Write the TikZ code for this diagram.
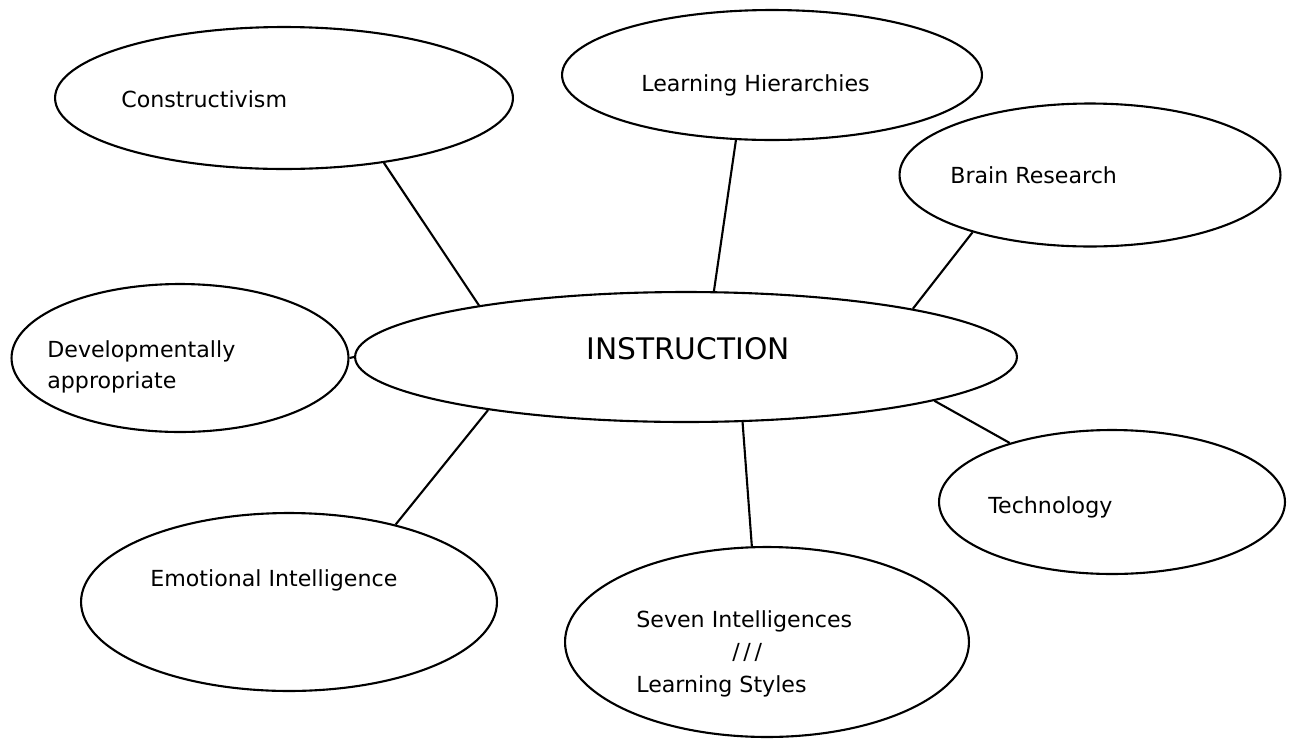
\documentclass[tikz,border=0pt]{standalone}
\usepackage{fontspec}
\setmainfont{DejaVu Sans}
\usepackage{tikz}
\usetikzlibrary{shapes.geometric}

\begin{document}
\begin{tikzpicture}[x = 0.02cm, y = -0.02cm,
        bubble/.style = {draw, ellipse, line width = 1.2pt, inner sep = 0pt},
        txt/.style = {anchor = base west, inner sep = 0pt, align = left, font = \fontsize{12.6}{17.6}\selectfont},
        link/.style = {line width = 1.2pt}]
    \useasboundingbox (0, 0) rectangle (1296, 738);

    % bubbles
    \node[bubble, minimum width = 9.16cm, minimum height = 2.84cm](constr) at (284, 98){};
    \node[bubble, minimum width = 8.4cm, minimum height = 2.6cm](hier) at (772, 75){};
    \node[bubble, minimum width = 7.62cm, minimum height = 2.86cm](brain) at (1090, 175){};
    \node[bubble, minimum width = 13.24cm, minimum height = 2.6cm](instr) at (686, 357){};
    \node[bubble, minimum width = 6.74cm, minimum height = 2.96cm](devel) at (180, 358){};
    \node[bubble, minimum width = 6.92cm, minimum height = 2.88cm](tech) at (1112, 502){};
    \node[bubble, minimum width = 8.32cm, minimum height = 3.56cm](emo) at (289, 602){};
    \node[bubble, minimum width = 8.08cm, minimum height = 3.8cm](seven) at (767, 642){};

    % texts (multi-line ones sit on their last baseline)
    \node[txt](constr-t) at (121, 107){Constructivism};
    \node[txt](hier-t) at (641, 91){Learning Hierarchies};
    \node[txt](brain-t) at (950, 183){Brain Research};
    \node[txt, font = \fontsize{16.9}{20}\selectfont](instr-t) at (586, 359){INSTRUCTION};
    \node[txt](devel-t) at (47, 388){Developmentally\\appropriate};
    \node[txt](tech-t) at (988, 513){Technology};
    \node[txt](emo-t) at (150, 586){Emotional Intelligence};
    \node[txt, font = \fontsize{12.6}{18.5}\selectfont](seven-t) at (636, 692){Seven Intelligences\\\hspace*{1.92cm}/\,/\,/\\Learning Styles};

    % links
    \draw[link]
        (constr.-33.3) -- (instr.166)
        (hier.-119) -- (instr.67.9)
        (brain.-154) -- (instr.12)
        (devel.east) -- (instr.west)
        (instr.-10.1) -- (tech.150.8)
        (instr.-165.6) -- (emo.36.5)
        (instr.-49.9) -- (seven.99.1)
    ;
\end{tikzpicture}
\end{document}
